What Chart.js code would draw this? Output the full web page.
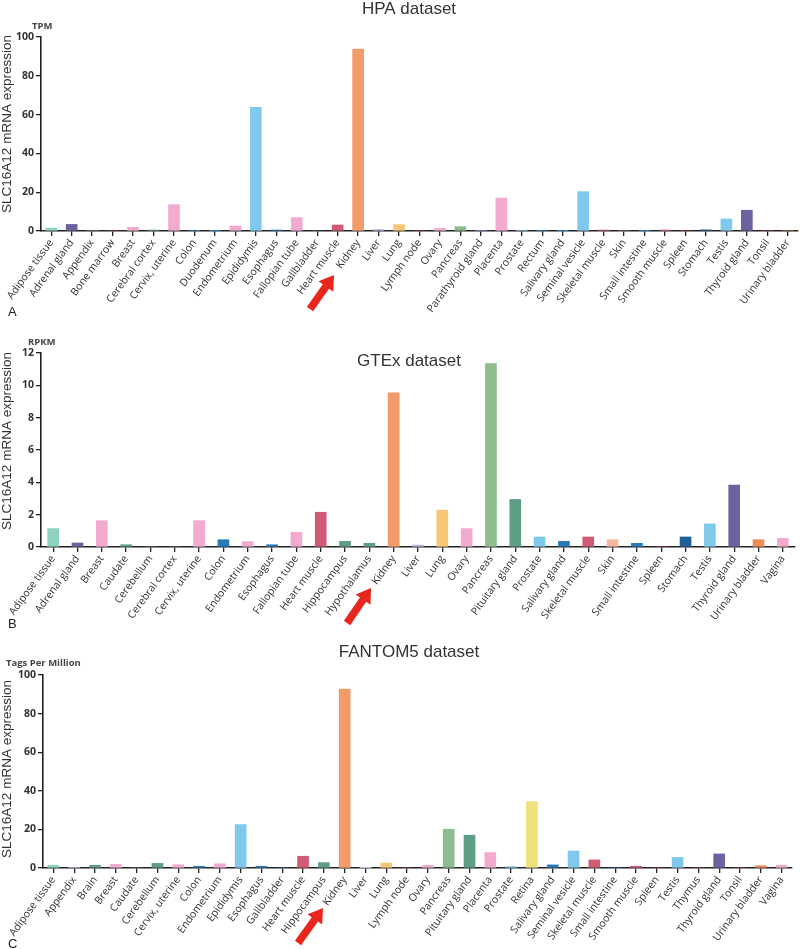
<!DOCTYPE html>
<html>
<head>
<meta charset="utf-8">
<script src="https://cdn.jsdelivr.net/npm/chart.js@4"></script>
<style>
  html, body { margin: 0; padding: 0; background: #fff; }
  body { width: 800px; height: 949px; position: relative; overflow: hidden; }
  .panel { position: absolute; left: 0; width: 800px; }
  canvas { display: block; }
</style>
</head>
<body>
<div class="panel" style="top:0;height:316px"><canvas id="cA" width="800" height="316"></canvas></div>
<div class="panel" style="top:316px;height:316px"><canvas id="cB" width="800" height="316"></canvas></div>
<div class="panel" style="top:632px;height:317px"><canvas id="cC" width="800" height="317"></canvas></div>
<script>
// ---------------- DATA ----------------
const hpaTissues = ["Adipose tissue","Adrenal gland","Appendix","Bone marrow","Breast","Cerebral cortex","Cervix, uterine","Colon","Duodenum","Endometrium","Epididymis","Esophagus","Fallopian tube","Gallbladder","Heart muscle","Kidney","Liver","Lung","Lymph node","Ovary","Pancreas","Parathyroid gland","Placenta","Prostate","Rectum","Salivary gland","Seminal vesicle","Skeletal muscle","Skin","Small intestine","Smooth muscle","Spleen","Stomach","Testis","Thyroid gland","Tonsil","Urinary bladder"];
const hpaTPM = [1.5,3.4,0,0,1.9,0.5,13.6,0.3,0.2,2.6,63.7,0.5,6.9,0,3.1,93.8,0.8,3.3,0,1.4,2.2,0.1,17.0,0.4,0.3,0.1,20.3,0.5,0,0.2,0.5,0,0.6,6.2,10.7,0,0];
const hpaTicks = [0,20,40,60,80,100];

const gtexTissues = ["Adipose tissue","Adrenal gland","Breast","Caudate","Cerebellum","Cerebral cortex","Cervix, uterine","Colon","Endometrium","Esophagus","Fallopian tube","Heart muscle","Hippocampus","Hypothalamus","Kidney","Liver","Lung","Ovary","Pancreas","Pituitary gland","Prostate","Salivary gland","Skeletal muscle","Skin","Small intestine","Spleen","Stomach","Testis","Thyroid gland","Urinary bladder","Vagina"];
const gtexRPKM = [1.14,0.25,1.63,0.14,0,0,1.63,0.45,0.33,0.14,0.91,2.15,0.35,0.23,9.54,0.12,2.28,1.14,11.34,2.94,0.62,0.35,0.62,0.45,0.23,0,0.62,1.43,3.83,0.45,0.54];
const gtexTicks = [0,2,4,6,8,10,12];

const fantomTissues = ["Adipose tissue","Appendix","Brain","Breast","Caudate","Cerebellum","Cervix, uterine","Colon","Endometrium","Epididymis","Esophagus","Gallbladder","Heart muscle","Hippocampus","Kidney","Liver","Lung","Lymph node","Ovary","Pancreas","Pituitary gland","Placenta","Prostate","Retina","Salivary gland","Seminal vesicle","Skeletal muscle","Small intestine","Smooth muscle","Spleen","Testis","Thymus","Thyroid gland","Tonsil","Urinary bladder","Vagina"];
const fantomTPM = [1.4,0.3,1.4,1.9,0,2.4,1.7,0.9,2.2,22.5,0.9,0,6.1,2.8,92.7,0.1,2.6,0,1.4,20.1,17.0,8.0,0.7,34.4,1.6,8.8,4.2,0,0.9,0,5.5,0,7.3,0,1.2,1.4];
const fantomTicks = [0,20,40,60,80,100];

// ---------------- STYLE ----------------
const C = {
  mint:"#8ed3bf", purple:"#6d62a0", pink:"#f2abcf", lgreen:"#8dbd8c", dgreen:"#5e9e85",
  blue:"#2a7ab8", dblue:"#1f5f95", lblue:"#80c9ec", rose:"#cf5c74", orange:"#f19a6a",
  lav:"#bcb5dc", yellow:"#f8c675", salmon:"#f7b6a0", borange:"#f08c55", retina:"#efe27c", red:"#d84a4a"
};
const tissueColor = {
  "Adipose tissue":C.mint,"Adrenal gland":C.purple,"Appendix":C.lav,"Bone marrow":C.red,"Brain":C.dgreen,
  "Breast":C.pink,"Caudate":C.dgreen,"Cerebellum":C.dgreen,"Cerebral cortex":C.dgreen,"Cervix, uterine":C.pink,
  "Colon":C.blue,"Duodenum":C.blue,"Endometrium":C.pink,"Epididymis":C.lblue,"Esophagus":C.blue,
  "Fallopian tube":C.pink,"Gallbladder":C.blue,"Heart muscle":C.rose,"Hippocampus":C.dgreen,"Hypothalamus":C.dgreen,
  "Kidney":C.orange,"Liver":C.lav,"Lung":C.yellow,"Lymph node":C.red,"Ovary":C.pink,"Pancreas":C.lgreen,
  "Parathyroid gland":C.purple,"Pituitary gland":C.dgreen,"Placenta":C.pink,"Prostate":C.lblue,"Rectum":C.blue,
  "Retina":C.retina,"Salivary gland":C.blue,"Seminal vesicle":C.lblue,"Skeletal muscle":C.rose,"Skin":C.salmon,
  "Small intestine":C.blue,"Smooth muscle":C.rose,"Spleen":C.red,"Stomach":C.dblue,"Testis":C.lblue,
  "Thymus":C.red,"Thyroid gland":C.purple,"Tonsil":C.red,"Urinary bladder":C.borange,"Vagina":C.pink
};

const overlay = {
  id: "overlay",
  afterDraw(chart, args, o) {
    const ctx = chart.ctx;
    ctx.save();
    ctx.fillStyle = "#333";
    // title
    ctx.font = "17px 'Liberation Sans', Arial, sans-serif";
    ctx.textAlign = "center"; ctx.textBaseline = "alphabetic";
    ctx.fillText(o.title, o.titleX, o.titleY);
    // unit
    ctx.font = "bold 9.5px 'Open Sans', sans-serif";
    ctx.textAlign = "left";
    ctx.fillStyle = "#444";
    ctx.fillText(o.unit, o.unitX, o.unitY);
    // y title
    ctx.fillStyle = "#333";
    ctx.font = "13.5px 'Liberation Sans', Arial, sans-serif";
    ctx.save();
    ctx.translate(o.yTitleX, o.yTitleY);
    ctx.rotate(-Math.PI/2);
    ctx.textAlign = "center"; ctx.textBaseline = "middle";
    ctx.fillText("SLC16A12 mRNA expression", 0, 0);
    ctx.restore();
    // panel letter
    ctx.font = "13px 'Liberation Sans', Arial, sans-serif";
    ctx.textAlign = "left"; ctx.textBaseline = "alphabetic";
    ctx.fillStyle = "#222";
    ctx.fillText(o.letter, 8, o.letterY);
    // arrow
    const [tx, ty] = o.tail, [hx, hy] = o.head;
    const dx = hx - tx, dy = hy - ty, L = Math.hypot(dx, dy);
    const ux = dx / L, uy = dy / L, px = -uy, py = ux;
    const hl = 14, hw = 9, sw = 3.8;
    const bx = hx - ux * hl, by = hy - uy * hl;
    ctx.fillStyle = "#e8261e";
    ctx.beginPath();
    ctx.moveTo(tx + px*sw, ty + py*sw);
    ctx.lineTo(bx + px*sw, by + py*sw);
    ctx.lineTo(bx + px*hw, by + py*hw);
    ctx.lineTo(hx, hy);
    ctx.lineTo(bx - px*hw, by - py*hw);
    ctx.lineTo(bx - px*sw, by - py*sw);
    ctx.lineTo(tx - px*sw, ty - py*sw);
    ctx.closePath();
    ctx.fill();
    ctx.restore();
  }
};

function makeChart(id, labels, values, ticks, geo, ov) {
  const axisColor = "#222";
  return new Chart(document.getElementById(id), {
    type: "bar",
    data: {
      labels: labels,
      datasets: [{
        data: values,
        backgroundColor: labels.map(t => tissueColor[t]),
        borderWidth: 0,
        barThickness: 11
      }]
    },
    options: {
      responsive: false,
      animation: false,
      devicePixelRatio: 1,
      layout: { padding: { top: geo.top, right: geo.right, left: 0, bottom: 0 } },
      plugins: { legend: { display: false }, tooltip: { enabled: false }, overlay: ov },
      scales: {
        x: {
          grid: { display: true, drawOnChartArea: false, drawTicks: true, tickLength: 5, offset: false, color: axisColor, lineWidth: 1.3 },
          border: { display: true, color: axisColor, width: 1.6 },
          ticks: {
            autoSkip: false, maxRotation: 54, minRotation: 54, padding: 1,
            color: "#333", font: { family: "'Open Sans', sans-serif", size: 10.5 }
          },
          afterFit(s) { s.height = geo.xh; s.paddingLeft = 0; s.paddingRight = 0; }
        },
        y: {
          min: ticks[0], max: ticks[ticks.length - 1],
          afterBuildTicks(s) { s.ticks = ticks.map(v => ({ value: v })); },
          grid: { display: true, drawOnChartArea: false, drawTicks: true, tickLength: 5, color: axisColor, lineWidth: 1.3 },
          border: { display: true, color: axisColor, width: 1.6 },
          ticks: { padding: 2, color: "#333", font: { family: "'Open Sans', sans-serif", size: 10.5, weight: "bold" } },
          afterFit(s) { s.width = geo.left; }
        }
      }
    },
    plugins: [overlay]
  });
}

makeChart("cA", hpaTissues, hpaTPM, hpaTicks,
  { top: 37, right: 2, left: 41, xh: 85 },
  { title: "HPA dataset", titleX: 409, titleY: 14, unit: "TPM", unitX: 32, unitY: 29,
    yTitleX: 7, yTitleY: 124, letter: "A", letterY: 316, tail: [310, 309], head: [334, 275] });

makeChart("cB", gtexTissues, gtexRPKM, gtexTicks,
  { top: 37, right: 5, left: 41, xh: 85 },
  { title: "GTEx dataset", titleX: 409, titleY: 50, unit: "RPKM", unitX: 28, unitY: 29,
    yTitleX: 7, yTitleY: 125, letter: "B", letterY: 312, tail: [347, 307], head: [371, 272] });

makeChart("cC", fantomTissues, fantomTPM, fantomTicks,
  { top: 43, right: 8, left: 43, xh: 81 },
  { title: "FANTOM5 dataset", titleX: 409, titleY: 25, unit: "Tags Per Million", unitX: 6, unitY: 34,
    yTitleX: 7, yTitleY: 137, letter: "C", letterY: 316, tail: [298, 311], head: [323, 276] });
</script>
</body>
</html>
